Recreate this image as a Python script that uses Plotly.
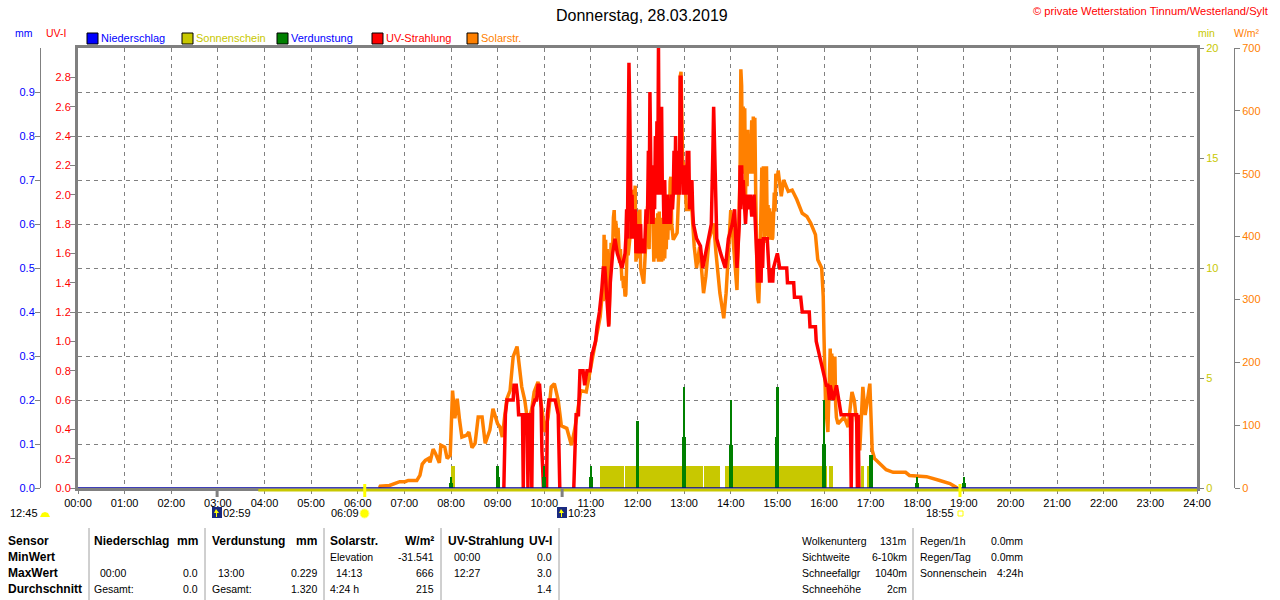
import plotly.graph_objects as go

W, H = 1280, 600
X0, X1 = 78, 1197
Y0, Y1 = 48, 488

hour_labels = ["%02d:00" % h for h in range(25)]

uv_times = ["09:08", "09:09", "09:10", "09:12", "09:20", "09:21", "09:24", "09:26", "09:27", "09:32", "09:33", "09:34",
            "09:38", "09:39", "09:40", "09:43", "09:44", "09:45", "09:48", "09:50", "09:52", "09:54", "09:56", "09:57",
            "09:59", "10:03", "10:04", "10:06", "10:14", "10:18", "10:19", "10:20", "10:29", "10:38", "10:39", "10:41",
            "10:44", "10:45", "10:46", "10:50", "10:52", "10:55", "10:59", "11:01", "11:06", "11:08", "11:11", "11:14",
            "11:16", "11:18", "11:21", "11:23", "11:25", "11:28", "11:31", "11:34", "11:40", "11:44", "11:45", "11:46",
            "11:47", "11:48", "11:49", "11:50", "11:51", "11:52", "11:53", "11:54", "11:55", "11:56", "11:57", "11:58",
            "11:59", "12:00", "12:01", "12:02", "12:03", "12:04", "12:05", "12:06", "12:07", "12:08", "12:09", "12:10",
            "12:11", "12:12", "12:13", "12:14", "12:15", "12:16", "12:17", "12:18", "12:19", "12:20", "12:21", "12:22",
            "12:23", "12:24", "12:25", "12:26", "12:27", "12:28", "12:29", "12:30", "12:31", "12:32", "12:33", "12:34",
            "12:35", "12:36", "12:37", "12:38", "12:39", "12:40", "12:41", "12:42", "12:43", "12:44", "12:45", "12:46",
            "12:47", "12:48", "12:49", "12:50", "12:51", "12:52", "12:53", "12:54", "12:55", "12:56", "12:57", "12:58",
            "12:59", "13:00", "13:01", "13:02", "13:03", "13:04", "13:05", "13:06", "13:07", "13:08", "13:09", "13:10",
            "13:11", "13:12", "13:16", "13:21", "13:24", "13:28", "13:32", "13:35", "13:37", "13:38", "13:40", "13:42",
            "13:47", "13:53", "13:57", "14:02", "14:05", "14:08", "14:11", "14:12", "14:13", "14:14", "14:15", "14:16",
            "14:17", "14:19", "14:21", "14:23", "14:25", "14:27", "14:30",
            "14:34", "14:35", "14:36", "14:37", "14:38", "14:39", "14:40", "14:41", "14:42", "14:47", "14:49", "14:50",
            "14:51", "14:52", "14:53", "14:54", "14:55", "15:00", "15:03", "15:12", "15:13", "15:21", "15:22", "15:30",
            "15:32", "15:41", "15:42", "15:49", "15:50", "15:54", "15:59", "16:03", "16:05", "16:07", "16:08", "16:12",
            "16:16", "16:19", "16:22", "16:34", "16:35", "16:36", "16:42", "16:43", "16:44", "16:45"]
uv_values = [0, 0.25, 0.5, 0.6, 0.6, 0.7, 0.7, 0.6, 0.5, 0.5, 0, 0.5,
             0.5, 0, 0.5, 0.5, 0, 0.55, 0.6, 0.6, 0.7, 0.7, 0.55, 0.25,
             0, 0, 0.5, 0.6, 0.6, 0.5, 0.25, 0, None, 0, 0.25, 0.5,
             0.5, 0.6, 0.8, 0.8, 0.7, 0.8, 0.8, 0.9, 1.0, 1.1, 1.2, 1.35,
             1.5, 1.5, 1.3, 1.1, 1.4, 1.6, 1.7, 1.6, 1.5, 1.6, 1.7, 1.9,
             1.7, 2.9, 2.9, 2.6, 1.8, 1.7, 2.0, 1.7, 1.9, 1.7, 1.9, 1.6,
             1.8, 1.6, 1.7, 1.8, 1.6, 1.8, 1.6, 1.7, 1.6, 1.7, 1.6, 1.8,
             1.9, 1.8, 1.9, 2.3, 1.9, 2.7, 2.3, 1.8, 2.0, 1.8, 2.2, 1.9,
             2.4, 2.0, 2.5, 2.0, 3.0, 2.0, 2.6, 2.0, 2.6, 2.0, 2.1, 1.8,
             2.1, 1.8, 2.0, 1.8, 2.0, 1.8, 1.9, 1.8, 1.9, 2.0, 1.9, 2.0,
             2.3, 2.0, 2.4, 2.0, 2.3, 2.0, 2.1, 2.0, 2.8, 2.8, 2.1, 2.2,
             2.0, 2.2, 2.0, 2.1, 2.0, 2.3, 2.0, 2.3, 1.9, 2.1, 1.9, 2.1,
             1.9, 1.8, 1.7, 1.65, 1.5, 1.6, 1.7, 1.8, 2.3, 2.6, 2.15, 1.7,
             1.6, 1.5, 1.7, 1.8, 1.9, 1.5, 1.8, 2.2, 1.9, 2.2, 2.0, 2.1,
             2.0, 1.8, 2.0, 1.9, 2.0, 1.85, 2.0,
             1.5, 1.4, 1.7, 1.4, 1.7, 1.4, 1.7, 1.5, 1.7, 1.7, 1.5, 1.4,
             1.5, 1.4, 1.5, 1.4, 1.5, 1.6, 1.5, 1.5, 1.4, 1.4, 1.3, 1.3,
             1.2, 1.2, 1.1, 1.1, 1.0, 0.9, 0.8, 0.7, 0.7, 0.6, 0.7, 0.6,
             0.7, 0.6, 0.5, 0.5, 0, 0.5, 0.5, 0, 0.5, 0]

solar_times = ["06:28", "06:29", "06:41", "06:48", "06:54", "07:01", "07:05", "07:16", "07:20", "07:23", "07:27", "07:31",
               "07:33", "07:37", "07:40", "07:45", "07:47", "07:52", "07:55", "07:59", "08:00", "08:02", "08:05", "08:08",
               "08:11", "08:14", "08:20", "08:23", "08:27", "08:31", "08:35", "08:40", "08:44", "08:50", "08:54", "08:57",
               "09:00", "09:03", "09:06", "09:09", "09:12", "09:16", "09:20", "09:25", "09:28", "09:31", "09:35", "09:39",
               "09:44", "09:47", "09:52", "09:57", "10:01", "10:05", "10:09", "10:13", "10:18", "10:22", "10:29", "10:35",
               "10:39", "10:43", "10:47", "10:54", "11:00", "11:08", "11:12", "11:14", "11:16", "11:17", "11:18", "11:19",
               "11:20", "11:21", "11:22", "11:23", "11:24", "11:25", "11:26", "11:27", "11:28", "11:29", "11:30", "11:31",
               "11:32", "11:33", "11:34", "11:35", "11:36", "11:37", "11:38", "11:39", "11:40", "11:41", "11:42", "11:43",
               "11:44", "11:45", "11:46", "11:47", "11:48", "11:50", "11:52", "11:53", "11:54", "11:55", "11:56", "11:57",
               "11:58", "11:59", "12:00", "12:01", "12:02", "12:03", "12:04", "12:05", "12:06", "12:07", "12:08", "12:09",
               "12:10", "12:12", "12:13", "12:15", "12:16", "12:17", "12:18", "12:19", "12:20", "12:21", "12:22", "12:23",
               "12:24", "12:25", "12:26", "12:27", "12:28", "12:29", "12:30", "12:31", "12:32", "12:33", "12:34", "12:35",
               "12:36", "12:37", "12:38", "12:39", "12:40", "12:41", "12:42", "12:43", "12:44", "12:45", "12:46", "12:51",
               "12:54", "12:55", "12:56", "12:57", "12:58", "13:00", "13:03", "13:10", "13:13", "13:16", "13:20", "13:25",
               "13:28", "13:32", "13:38", "13:41", "13:46", "13:51", "13:54", "13:57", "14:00", "14:03", "14:08", "14:12",
               "14:13", "14:14", "14:15", "14:16", "14:17", "14:18", "14:19", "14:20", "14:21", "14:22", "14:23", "14:24",
               "14:25", "14:26", "14:27", "14:28", "14:29", "14:30", "14:31", "14:32", "14:33", "14:34", "14:35", "14:36",
               "14:37", "14:38", "14:39", "14:40", "14:41", "14:42", "14:43", "14:44", "14:45", "14:46", "14:47", "14:48",
               "14:49", "14:50", "14:51", "14:52", "14:53", "14:54", "14:55", "14:56", "14:57", "14:58", "15:00", "15:01",
               "15:05", "15:08", "15:14", "15:19", "15:25", "15:32", "15:38", "15:43", "15:49", "15:52", "15:57", "15:59",
               "16:00", "16:02", "16:05", "16:08", "16:09", "16:10", "16:11", "16:12", "16:13", "16:14", "16:15", "16:16",
               "16:18", "16:22", "16:26", "16:31", "16:36", "16:39",
               "16:41", "16:46", "16:50", "16:53", "16:59", "17:01", "17:02", "17:05", "17:12", "17:20", "17:29", "17:45",
               "17:50", "18:12", "18:29", "18:42", "18:50", "18:52"]
solar_values = [0, 3, 4, 8, 10, 10, 12, 12, 20, 38, 44, 47,
                41, 62, 55, 40, 68, 65, 47, 52, 81, 155, 111, 142,
                108, 81, 84, 89, 64, 71, 113, 113, 71, 92, 126, 113,
                102, 97, 81, 113, 142, 155, 209, 225, 187, 161, 139, 102,
                126, 153, 169, 123, 89, 113, 161, 166, 139, 99, 95, 68,
                92, 123, 155, 153, 193, 247, 273, 300, 300, 403, 320, 395,
                300, 380, 280, 260, 300, 370, 390, 370, 380, 430, 442, 400,
                425, 410, 380, 414, 360, 358, 380, 345, 330, 337, 318, 325,
                305, 308, 350, 400, 370, 400, 420, 470, 474, 410, 480, 481,
                360, 440, 365, 430, 370, 443, 350, 340, 335, 331, 325, 350,
                400, 440, 448, 380, 500, 420, 501, 480, 380, 360, 410, 370,
                430, 365, 437, 360, 440, 362, 430, 360, 420, 362, 400, 365,
                420, 380, 440, 395, 450, 410, 488, 495, 420, 400, 395, 406,
                500, 655, 662, 600, 520, 512, 443, 443, 384, 350, 384, 310,
                337, 395, 421, 374, 310, 270, 310, 374, 442, 395, 315, 500,
                666, 640, 500, 607, 500, 604, 460, 565, 480, 570, 500, 560,
                500, 522, 585, 500, 591, 520, 589, 480, 384, 320, 300, 294,
                330, 400, 453, 510, 430, 512, 390, 510, 400, 512, 400, 450,
                395, 445, 400, 440, 395, 398, 430, 470, 440, 500, 490, 505,
                464, 490, 472, 474, 459, 437, 432, 421, 403, 363, 350, 305,
                241, 134, 89, 222, 154, 214, 140, 176, 147, 209, 133, 112,
                102, 108, 113, 97, 153, 139,
                113, 60, 161, 116, 166, 97, 60, 47, 39, 29, 25, 25,
                20, 18, 12, 7, 1, 0]

sun_start = ["08:00", "11:12", "11:44", "13:26", "13:53", "16:06", "16:47", "16:55"]
sun_end = ["08:05", "11:43", "13:24", "13:46", "16:04", "16:12", "16:52", "16:59"]
sun_minutes = [1, 1, 1, 1, 1, 1, 1, 1]

evap_hours = ["08:00", "09:00", "10:00", "11:00", "12:00", "13:00", "14:00", "15:00", "16:00", "17:00", "18:00", "19:00"]
evap_peak = [0.025, 0.05, 0.05, 0.05, 0.152, 0.229, 0.2, 0.229, 0.2, 0.076, 0.025, 0.025]
evap_shoulder = [0.012, 0.025, 0.025, 0.025, 0.076, 0.116, 0.098, 0.116, 0.1, 0.076, 0.012, 0.012]

rain_times = ["00:00", "24:00"]
rain_values = [0, 0]

moon_marks = ["02:59", "10:23"]
sun_marks = ["06:09", "18:55"]

assert len(uv_times) == len(uv_values)
assert len(solar_times) == len(solar_values)

GRAY = "#808080"
BLUE = "#0000ff"
OLIVE = "#c8c800"
GREEN = "#008000"
RED = "#ff0000"
ORANGE = "#ff8000"
FONT = "Liberation Sans"


def mins(t):
    h, m = t.split(":")
    return int(h) * 60 + int(m)


def px(x):
    return x / W


def py(y):
    return 1 - y / H


fig = go.Figure()

# draw order follows the axis order: sun, solar, uv, mm
fig.add_trace(go.Bar(x=[mins(t) for t in sun_start], y=sun_minutes,
                     width=[mins(b) - mins(a) for a, b in zip(sun_start, sun_end)],
                     offset=0, marker=dict(color=OLIVE, line_width=0), name="Sonnenschein", yaxis="y"))
fig.add_trace(go.Scatter(x=[mins(t) for t in solar_times], y=solar_values, mode="lines", name="Solarstr.",
                         line=dict(color=ORANGE, width=3.5), yaxis="y2"))
fig.add_trace(go.Scatter(x=[mins(t) for t in uv_times], y=uv_values, mode="lines", name="UV-Strahlung",
                         line=dict(color=RED, width=3.5), yaxis="y3"))
fig.add_trace(go.Bar(x=[mins(t) for t in evap_hours], y=evap_shoulder, width=5, marker=dict(color=GREEN, line_width=0),
                     name="Verdunstung", yaxis="y4"))
fig.add_trace(go.Bar(x=[mins(t) for t in evap_hours], y=evap_peak, width=3.2, marker=dict(color=GREEN, line_width=0),
                     name="Verdunstung", yaxis="y4"))
fig.add_trace(go.Scatter(x=[mins(t) for t in rain_times], y=rain_values, mode="lines", name="Niederschlag",
                         line=dict(color="#0000a0", width=1.6), yaxis="y4", cliponaxis=False))

shapes = []
annotations = []


def text(x, y, s, color="black", size=10.5, anchor="left", bold=False):
    annotations.append(dict(x=px(x), y=py(y), xref="paper", yref="paper", text="<b>%s</b>" % s if bold else s,
                            showarrow=False, xanchor=anchor, yanchor="middle", borderpad=0, borderwidth=0,
                            font=dict(color=color, size=12 if bold else size, family=FONT)))


def rect(x0, y0, x1, y1, fill, line=None):
    shapes.append(dict(type="rect", xref="paper", yref="paper", x0=px(x0), x1=px(x1), y0=py(y0), y1=py(y1),
                       fillcolor=fill, line=dict(color=line or fill, width=1 if line else 0)))


def poly(points, fill):
    path = "M " + " L ".join("%f,%f" % (px(a), py(b)) for a, b in points) + " Z"
    shapes.append(dict(type="path", xref="paper", yref="paper", path=path, fillcolor=fill, line_width=0))


# title and units
text(642, 15, "Donnerstag, 28.03.2019", size=16, anchor="center")
text(1269, 11, "© private Wetterstation Tinnum/Westerland/Sylt", color=RED, size=11.2, anchor="right")
text(15, 33, "mm", color=BLUE, size=10.5)
text(46, 33, "UV-I", color=RED, size=10.5)
text(1198, 33, "min", color=OLIVE, size=10.5)
text(1234, 33, "W/m²", color=ORANGE, size=10.5)

# legend boxes
legend = [(87, "Niederschlag", BLUE, BLUE), (182, "Sonnenschein", OLIVE, OLIVE), (277, "Verdunstung", GREEN, BLUE),
          (372, "UV-Strahlung", RED, RED), (467, "Solarstr.", ORANGE, ORANGE)]
for x, label, box, col in legend:
    rect(x, 33, x + 11, 44, box, "black")
    text(x + 14, 38, label, color=col, size=11)

# baseline strip of the sunshine sensor, sits just below zero
shapes.append(dict(type="rect", xref="x", yref="paper", x0=mins("03:52"), x1=mins("24:00"),
                   y0=py(489), y1=py(491.5), fillcolor=OLIVE, line_width=0, layer="above"))

# rise and set markers below the axis
for t in moon_marks:
    shapes.append(dict(type="line", xref="x", yref="paper", x0=mins(t), x1=mins(t), y0=py(488), y1=py(497),
                       line=dict(color=GRAY, width=3)))
for t in sun_marks:
    shapes.append(dict(type="line", xref="x", yref="paper", x0=mins(t), x1=mins(t), y0=py(484), y1=py(497),
                       line=dict(color="#ffff00", width=3)))

# small icons of the astro row
shapes.append(dict(type="circle", xref="paper", yref="paper", x0=px(360), x1=px(369), y0=py(518), y1=py(509),
                   fillcolor="#ffff00", line=dict(color="#ffff80", width=1)))
rect(958, 511, 963, 516, "white", "#ffff00")
poly([(40, 517), (42, 513), (45, 512), (48, 513), (50, 517)], "#ffff00")
for x0 in (212, 557):
    rect(x0, 507, x0 + 10, 518, "#1a2a80")
    poly([(x0 + 4, 509), (x0 + 7, 513), (x0 + 5, 513), (x0 + 5, 517), (x0 + 4, 517), (x0 + 4, 513), (x0 + 2, 513)],
         "#ffff00")
text(10, 513, "12:45", size=11)
text(223, 513, "02:59", size=11)
text(331, 513, "06:09", size=11)
text(568, 513, "10:23", size=11)
text(926, 513, "18:55", size=11)

# table below the chart
for x in (89, 205, 324, 441, 559, 913):
    shapes.append(dict(type="line", xref="paper", yref="paper", x0=px(x), x1=px(x), y0=py(528), y1=0,
                       line=dict(color="#a0a0a0", width=1)))

for y, label in zip((541, 557, 573, 589), ("Sensor", "MinWert", "MaxWert", "Durchschnitt")):
    text(8, y, label, bold=True)
text(94, 541, "Niederschlag", bold=True)
text(198, 541, "mm", anchor="right", bold=True)
text(212, 541, "Verdunstung", bold=True)
text(317, 541, "mm", anchor="right", bold=True)
text(330, 541, "Solarstr.", bold=True)
text(434, 541, "W/m²", anchor="right", bold=True)
text(448, 541, "UV-Strahlung", bold=True)
text(552, 541, "UV-I", anchor="right", bold=True)

text(100, 573, "00:00")
text(198, 573, "0.0", anchor="right")
text(94, 589, "Gesamt:")
text(198, 589, "0.0", anchor="right")
text(218, 573, "13:00")
text(317, 573, "0.229", anchor="right")
text(212, 589, "Gesamt:")
text(317, 589, "1.320", anchor="right")
text(330, 557, "Elevation")
text(434, 557, "-31.541", anchor="right")
text(336, 573, "14:13")
text(434, 573, "666", anchor="right")
text(330, 589, "4:24 h")
text(434, 589, "215", anchor="right")
text(454, 557, "00:00")
text(552, 557, "0.0", anchor="right")
text(454, 573, "12:27")
text(552, 573, "3.0", anchor="right")
text(552, 589, "1.4", anchor="right")

for y, label, val in zip((541, 557, 573, 589), ("Wolkenunterg", "Sichtweite", "Schneefallgr", "Schneehöhe"),
                         ("131m", "6-10km", "1040m", "2cm")):
    text(802, y, label)
    text(907, y, val, anchor="right")
for y, label, val in zip((541, 557, 573), ("Regen/1h", "Regen/Tag", "Sonnenschein"), ("0.0mm", "0.0mm", "4:24h")):
    text(920, y, label)
    text(1023, y, val, anchor="right")

dom_y = [py(Y1), py(Y0)]
tick_font = dict(family=FONT, size=11)

fig.update_layout(
    width=W, height=H, margin=dict(l=0, r=0, t=0, b=0, autoexpand=False),
    paper_bgcolor="white", plot_bgcolor="white",
    showlegend=False, barmode="overlay", bargap=0,
    shapes=shapes, annotations=annotations,
    xaxis=dict(domain=[px(X0), px(X1)], range=[0, 1440], tickvals=[h * 60 for h in range(25)], ticktext=hour_labels,
               showgrid=True, gridcolor=GRAY, griddash="4px,4px", gridwidth=1, zeroline=False,
               showline=True, linecolor=GRAY, linewidth=3, mirror=True, ticks="outside", ticklen=3, tickcolor=GRAY,
               tickfont=dict(color="black", **tick_font), tickangle=0),
    yaxis=dict(domain=dom_y, range=[0, 20], side="right", anchor="x", tickvals=[0, 5, 10, 15, 20], showgrid=False,
               zeroline=False, ticks="outside", ticklen=4, tickcolor=GRAY, showline=True, linecolor=GRAY, linewidth=3,
               tickfont=dict(color=OLIVE, **tick_font)),
    yaxis2=dict(domain=dom_y, range=[0, 700], overlaying="y", side="right", anchor="free", position=px(1234),
                tickvals=list(range(0, 701, 100)), showgrid=False, zeroline=False, ticks="outside", ticklen=5,
                tickcolor=GRAY, showline=True, linecolor=GRAY, linewidth=1, tickfont=dict(color=ORANGE, **tick_font)),
    yaxis3=dict(domain=dom_y, range=[0, 3], overlaying="y", side="left", anchor="x",
                tickvals=[i * 0.2 for i in range(15)], tickformat=".1f", showgrid=False, zeroline=False,
                ticks="outside", ticklen=5, tickcolor=GRAY, showline=True, linecolor=GRAY, linewidth=3,
                ticklabelstandoff=-3, tickfont=dict(color=RED, **tick_font)),
    yaxis4=dict(domain=dom_y, range=[0, 1], overlaying="y", side="left", anchor="free", position=px(40),
                tickvals=[i * 0.1 for i in range(10)], tickformat=".1f", showgrid=True, gridcolor=GRAY,
                griddash="4px,4px", gridwidth=1, zeroline=False, ticks="outside", ticklen=5, tickcolor=GRAY,
                showline=True, linecolor=GRAY, linewidth=1, ticklabelstandoff=-2,
                tickfont=dict(color=BLUE, **tick_font)),
)

# the page's default body margin would push the fixed-size figure off by 8px
fig.write_html("out.html", config={"displayModeBar": False}, post_script="document.body.style.margin='0';")
